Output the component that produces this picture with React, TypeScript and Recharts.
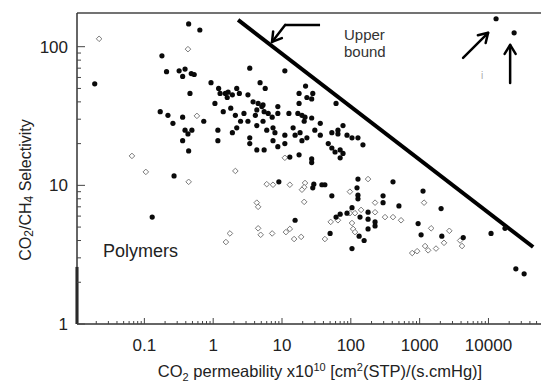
import React from 'react';
import { ScatterChart, Scatter, XAxis, YAxis, ReferenceLine, ReferenceDot, Label } from 'recharts';

// CO2 permeability (Barrer) / CO2-CH4 selectivity
const densePerm = [
  0.019, 0.44, 0.64, 0.18, 0.21, 0.32, 0.39, 0.36, 0.48, 0.53,
  0.93, 0.46, 1.2, 1.26, 1.5, 1.65, 1.9, 2.2, 2.4, 1.6,
  3.4, 4.8, 5.7, 3.2, 3.8, 4.5, 5.1, 5.5, 6.3, 4.3,
  4.1, 1.06, 1.4, 1.8, 2.1, 2.8, 2.5, 2.2, 1.9, 3.2,
  4.3, 5.3, 6.0, 7.4, 7.2, 0.17, 0.22, 0.26, 0.36, 0.73,
  0.39, 0.49, 0.43, 0.36, 0.44, 1.17, 1.17, 3.4, 3.4, 4.3,
  5.5, 11, 22, 17.7, 28, 23, 27, 17.7, 61, 8.7,
  8.7, 12.6, 17, 19.5, 21.6, 27, 21, 36, 30, 36,
  14.5, 15.5, 18.3, 19.5, 23, 7.9, 7.4, 11, 11, 8.7,
  53, 65, 77, 65, 88, 104, 127, 47, 53, 59,
  70, 77, 70, 150, 13, 17.7, 27, 27, 0.27, 0.13,
  9.0, 29, 28, 38, 42, 53, 15.5, 50, 104, 127,
  123, 127, 127, 410, 294, 294, 104, 88, 70, 61,
  178, 136, 178, 225, 225, 178, 132, 156, 1120, 500,
  2050, 950, 1050, 2100, 4300, 10900, 17400, 25000, 33000, 12900,
  23600, 5.3,
];
const denseSel = [
  54, 146, 132, 86, 66, 67, 69, 61, 64, 63,
  55, 46, 50, 46, 46, 47, 45, 50, 46, 43,
  70, 55, 50, 45, 40, 39, 37, 34, 33, 35,
  32, 39, 34, 36, 32, 33, 29, 26, 24, 29,
  27, 29, 25, 26, 31, 34, 32, 28, 31, 29,
  25, 25, 23.5, 21, 17.7, 25, 21, 22, 20, 18,
  18, 67, 52, 46, 46, 43, 42, 39, 39, 37,
  33, 33, 33, 32, 31, 30.6, 29, 28, 25, 23,
  26, 23, 24, 21, 22, 24, 21, 23, 20, 19,
  24, 25, 27, 23.5, 23, 22, 22, 20, 18.6, 17.4,
  18, 17, 15.8, 19.6, 16, 16.6, 15.5, 14.6, 11.7, 5.9,
  10.6, 10.2, 9.6, 10.1, 10.1, 8.4, 5.6, 4.5, 3.5, 11.1,
  9.6, 8.5, 8.0, 10.6, 8.4, 7.5, 6.9, 6.3, 6.2, 5.9,
  6.4, 5.9, 5.7, 5.45, 5.1, 4.85, 4.3, 4.0, 9.1, 7.1,
  6.8, 5.3, 4.4, 4.3, 4.2, 4.5, 4.9, 2.5, 2.3, 159,
  126, 38,
];

const openPerm = [
  0.022, 0.43, 0.58, 0.066, 0.105, 0.44, 2.1, 6.0, 1.53, 1.75,
  4.3, 4.5, 4.5, 4.9, 11, 7.4, 13, 21.6, 21, 19.5,
  178, 97, 21, 225, 225, 141, 97, 115, 51, 65,
  104, 108, 115, 314, 410, 537, 7.2, 11.4, 13, 15,
  19, 42, 1160, 1470, 2700, 1200, 1330, 1730, 2260, 3870,
  4130, 780, 920,
];
const openSel = [
  114, 96, 31.7, 16.3, 12.5, 10.6, 12.7, 10.2, 3.9, 4.5,
  7.5, 7.0, 4.9, 4.4, 15.8, 10.1, 10.1, 10.4, 9.7, 9.3,
  11.1, 9.0, 7.6, 7.5, 6.4, 6.65, 6.3, 6.3, 5.45, 5.6,
  5.35, 4.85, 4.6, 5.9, 5.9, 5.6, 4.5, 4.6, 4.85, 4.1,
  4.25, 4.1, 7.5, 4.9, 4.7, 3.65, 3.4, 3.5, 3.85, 4.0,
  3.65, 3.25, 3.35,
];

// upper bound line (ends)
const boundPerm = [2.3, 44600];
const boundSel = [156, 3.59];

const xMajor = [0.1, 1, 10, 100, 1000, 10000];
const xLabels = ['0.1', '1', '10', '100', '1000', '10000'];
const yMajor = [1, 10, 100];
const yLabels = ['1', '10', '100'];

const X_DOMAIN = [0.0105, 58000];
const Y_DOMAIN = [1, 175];
const FONT = '"Liberation Sans", Arial, Helvetica, sans-serif';

const minors = (from: number, to: number, lo: number, hi: number) => {
  const out: number[] = [];
  for (let d = from; d <= to; d++) {
    for (let m = 2; m <= 9; m++) {
      const v = m * Math.pow(10, d);
      if (v > lo && v < hi) out.push(v);
    }
  }
  return out;
};
const xTicks = [...xMajor, ...minors(-2, 4, X_DOMAIN[0], X_DOMAIN[1])];
const yTicks = [...yMajor, ...minors(0, 2, Y_DOMAIN[0], Y_DOMAIN[1])];

const densePoints = densePerm.map((p, i) => ({ x: p, y: denseSel[i] }));
const openPoints = openPerm.map((p, i) => ({ x: p, y: openSel[i] }));

function XTick(props: any) {
  const { x, y, payload } = props;
  const i = xMajor.indexOf(payload.value);
  return (
    <g>
      <line x1={x} y1={y} x2={x} y2={y - (i >= 0 ? 6 : 3)} stroke="#444" strokeWidth={1} />
      {i >= 0 && (
        <text x={x} y={y + 27} textAnchor="middle" fontSize={17} fill="#222" fontFamily={FONT}>
          {xLabels[i]}
        </text>
      )}
    </g>
  );
}

function YTick(props: any) {
  const { x, y, payload } = props;
  const i = yMajor.indexOf(payload.value);
  return (
    <g>
      <line x1={x} y1={y} x2={x + (i >= 0 ? 8 : 4)} y2={y} stroke="#444" strokeWidth={1} />
      {i >= 0 && (
        <text x={x - 9} y={y} dy="0.36em" textAnchor="end" fontSize={17} fill="#222" fontFamily={FONT}>
          {yLabels[i]}
        </text>
      )}
    </g>
  );
}

// axis titles sit at fixed spots in the 541x383 frame
function XTitle() {
  return (
    <text x={320} y={377} textAnchor="middle" fontSize={16.5} fill="#222" fontFamily={FONT}>
      CO<tspan dy={4} fontSize={11}>2</tspan>
      <tspan dy={-4}> permeability x10</tspan>
      <tspan dy={-6} fontSize={11}>10</tspan>
      <tspan dy={6}> [cm</tspan>
      <tspan dy={-6} fontSize={11}>2</tspan>
      <tspan dy={6}>(STP)/(s.cmHg)]</tspan>
    </text>
  );
}

function YTitle() {
  const cx = 25;
  const cy = 190;
  return (
    <text
      x={cx}
      y={cy}
      transform={`rotate(-90 ${cx} ${cy})`}
      textAnchor="middle"
      dominantBaseline="central"
      fontSize={16}
      fill="#222"
      fontFamily={FONT}
    >
      CO<tspan dy={4} fontSize={12}>2</tspan>
      <tspan dy={-4}>/CH</tspan>
      <tspan dy={4} fontSize={12}>4</tspan>
      <tspan dy={-4}> Selectivity</tspan>
    </text>
  );
}

// line with open chevron head at (x2, y2)
function ArrowLine(props: any) {
  const { x1, y1, x2, y2, stroke, strokeWidth } = props;
  const a = Math.atan2(y2 - y1, x2 - x1);
  const L = 9;
  const W = 5.5;
  const bx = x2 - L * Math.cos(a);
  const by = y2 - L * Math.sin(a);
  const px = -Math.sin(a) * W;
  const py = Math.cos(a) * W;
  return (
    <g stroke={stroke} strokeWidth={strokeWidth} fill="none" strokeLinecap="round" strokeLinejoin="round">
      <line x1={x1} y1={y1} x2={x2} y2={y2} />
      <polyline points={`${bx + px},${by + py} ${x2},${y2} ${bx - px},${by - py}`} />
    </g>
  );
}

const Dot = (p: any) => <circle cx={p.cx} cy={p.cy} r={2.6} fill="#0a0a0a" />;
const Diamond = (p: any) => {
  const s = 2.8;
  return (
    <polygon
      points={`${p.cx},${p.cy - s} ${p.cx + s},${p.cy} ${p.cx},${p.cy + s} ${p.cx - s},${p.cy}`}
      fill="#fff"
      stroke="#7a7a7a"
      strokeWidth={1}
    />
  );
};

export default function App() {
  return (
    <div style={{ position: 'absolute', left: 0, top: 0, width: 541, height: 383, background: '#fff' }}>
      <ScatterChart width={541} height={383} margin={{ top: 13, right: 0, bottom: 0, left: 0 }}>
        <XAxis
          dataKey="x"
          type="number"
          scale="log"
          domain={X_DOMAIN}
          allowDataOverflow
          ticks={xTicks}
          interval={0}
          tick={<XTick />}
          tickLine={false}
          tickSize={0}
          tickMargin={0}
          height={59}
          axisLine={{ stroke: '#333', strokeWidth: 1.6 }}
        >
          <Label content={<XTitle />} />
        </XAxis>
        <YAxis
          dataKey="y"
          type="number"
          scale="log"
          domain={Y_DOMAIN}
          allowDataOverflow
          ticks={yTicks}
          interval={0}
          tick={<YTick />}
          tickLine={false}
          tickSize={0}
          tickMargin={0}
          width={77}
          axisLine={{ stroke: '#333', strokeWidth: 1.5 }}
        >
          <Label content={<YTitle />} />
        </YAxis>

        <ReferenceLine y={Y_DOMAIN[1]} stroke="#444" strokeWidth={1.6} ifOverflow="visible" />
        <ReferenceLine
          segment={[{ x: X_DOMAIN[0], y: 1 }, { x: X_DOMAIN[0], y: 2.58 }]}
          stroke="#111"
          strokeWidth={3}
          ifOverflow="visible"
        />

        <Scatter data={openPoints} shape={Diamond} isAnimationActive={false} />
        <Scatter data={densePoints} shape={Dot} isAnimationActive={false} />

        <ReferenceLine
          segment={[{ x: boundPerm[0], y: boundSel[0] }, { x: boundPerm[1], y: boundSel[1] }]}
          stroke="#000"
          strokeWidth={4}
          ifOverflow="visible"
        />
        <ReferenceLine
          segment={[{ x: 35.7, y: 143.6 }, { x: 11.1, y: 143.6 }]}
          stroke="#000"
          strokeWidth={2.5}
          ifOverflow="visible"
        />
        <ReferenceLine
          segment={[{ x: 11.1, y: 143.6 }, { x: 7.16, y: 108.3 }]}
          stroke="#000"
          strokeWidth={2.5}
          shape={ArrowLine}
          ifOverflow="visible"
        />
        <ReferenceLine
          segment={[{ x: 4276, y: 83 }, { x: 9886, y: 126 }]}
          stroke="#000"
          strokeWidth={2.5}
          shape={ArrowLine}
          ifOverflow="visible"
        />
        <ReferenceLine
          segment={[{ x: 20650, y: 54.8 }, { x: 20650, y: 103 }]}
          stroke="#000"
          strokeWidth={2.5}
          shape={ArrowLine}
          ifOverflow="visible"
        />

        <ReferenceDot
          x={79.6}
          y={112}
          r={0}
          fill="none"
          stroke="none"
          label={{
            content: (p: any) => (
              <text x={p.viewBox.x} y={p.viewBox.y} fontSize={15} fill="#333" fontFamily={FONT}>
                <tspan x={p.viewBox.x}>Upper</tspan>
                <tspan x={p.viewBox.x} dy={17.5}>bound</tspan>
              </text>
            ),
          }}
        />
        <ReferenceDot
          x={0.025}
          y={3.04}
          r={0}
          fill="none"
          stroke="none"
          label={{
            content: (p: any) => (
              <text x={p.viewBox.x} y={p.viewBox.y} fontSize={18} fill="#222" fontFamily={FONT}>
                Polymers
              </text>
            ),
          }}
        />
        <ReferenceDot
          x={8070}
          y={61.5}
          r={0}
          fill="none"
          stroke="none"
          label={{
            content: (p: any) => (
              <text x={p.viewBox.x} y={p.viewBox.y} dy="0.35em" textAnchor="middle" fontSize={10} fill="#aaa" fontFamily={FONT}>
                i
              </text>
            ),
          }}
        />
      </ScatterChart>
    </div>
  );
}
